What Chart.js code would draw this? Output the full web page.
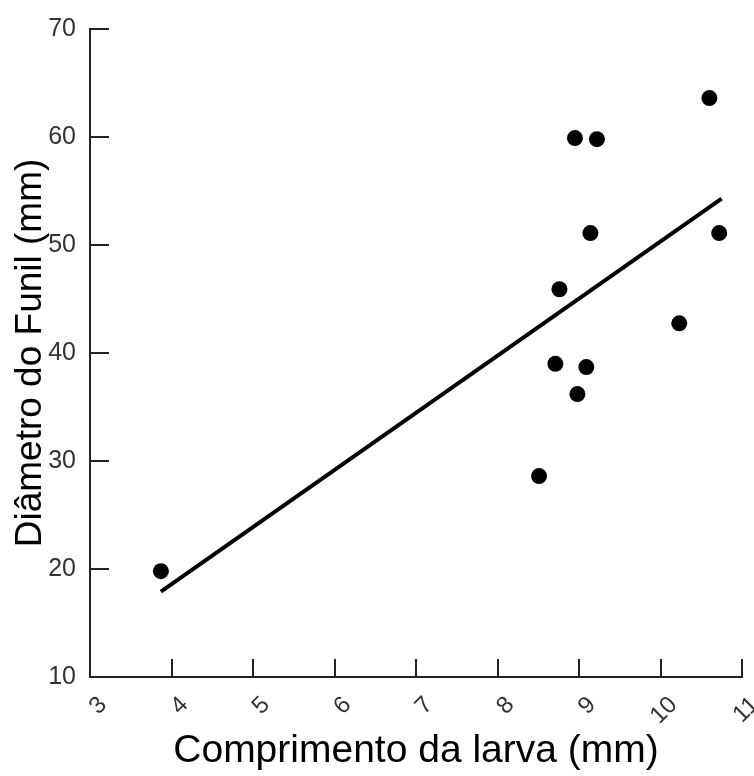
<!DOCTYPE html>
<html>
<head>
<meta charset="utf-8">
<script src="https://cdn.jsdelivr.net/npm/chart.js@4"></script>
<style>
  html, body { margin: 0; padding: 0; background: #fff; }
  #wrap { width: 754px; height: 776px; }
</style>
</head>
<body>
<div id="wrap"><canvas id="scatter_chart" width="754" height="776"></canvas></div>
<script>
// values
const larva = [3.87, 8.51, 8.71, 8.76, 8.95, 8.98, 9.09, 9.14, 9.22, 10.23, 10.6, 10.72];
const funil = [19.8, 28.6, 39.0, 45.9, 59.9, 36.2, 38.7, 51.1, 59.8, 42.75, 63.6, 51.1];
// regression line ends
const fitX = [3.87, 10.75];
const fitY = [17.9, 54.3];
const xTicks = [3, 4, 5, 6, 7, 8, 9, 10, 11];
const yTicks = [10, 20, 30, 40, 50, 60, 70];

const toPoints = (xs, ys) => xs.map((x, i) => ({ x: x, y: ys[i] }));

// short tick marks drawn inside the plot, like the original
const innerTicks = {
	id: 'innerTicks',
	afterDraw(chart) {
		const c = chart.ctx;
		const area = chart.chartArea;
		const xs = chart.scales.x, ys = chart.scales.y;
		c.save();
		c.strokeStyle = '#222';
		c.lineWidth = 2;
		c.beginPath();
		xTicks.forEach(v => {
			const px = Math.round(xs.getPixelForValue(v));
			c.moveTo(px, area.bottom);
			c.lineTo(px, area.bottom - 18);
		});
		yTicks.forEach(v => {
			const py = Math.round(ys.getPixelForValue(v));
			c.moveTo(area.left, py);
			c.lineTo(area.left + 19, py);
		});
		c.stroke();
		c.restore();
	}
};

const ctx = document.getElementById("scatter_chart").getContext("2d");
let my_chart = new Chart(ctx, {
	type: "scatter",
	data: {
		datasets: [
		{
			label: "Dados",
			data: toPoints(larva, funil),
			pointRadius: 8,
			pointHoverRadius: 8,
			backgroundColor: "#000",
			borderColor: "#000",
			borderWidth: 0,
		},
		{
			label: "Regressão",
			type: "line",
			data: toPoints(fitX, fitY),
			borderColor: "#000",
			borderWidth: 4,
			pointRadius: 0,
			fill: false,
		},
		],
	},
	options: {
		responsive: false,
		animation: false,
		layout: { padding: { top: 29, right: 12, left: 0, bottom: 0 } },
		plugins: { legend: { display: false }, tooltip: { enabled: false } },
		scales: {
			x: {
				type: "linear",
				min: 3,
				max: 11,
				afterFit: (s) => { s.height = 99; s.paddingLeft = 0; s.paddingRight = 0; },
				afterBuildTicks: (s) => { s.ticks = xTicks.map(v => ({ value: v })); },
				grid: { display: false },
				border: { display: true, color: "#222", width: 2 },
				ticks: {
					minRotation: 45,
					maxRotation: 45,
					labelOffset: 13,
					padding: 6,
					color: "#333",
					font: { family: "Liberation Sans, Arial", size: 24 },
				},
				title: {
					display: true,
					text: "Comprimento da larva (mm)",
					color: "#000",
					font: { family: "Liberation Sans, Arial", size: 39 },
					padding: { top: 3, bottom: 1 },
				},
			},
			y: {
				type: "linear",
				min: 10,
				max: 70,
				afterFit: (s) => { s.width = 90; },
				afterBuildTicks: (s) => { s.ticks = yTicks.map(v => ({ value: v })); },
				grid: { display: false },
				border: { display: true, color: "#222", width: 2 },
				ticks: {
					padding: 6,
					color: "#333",
					font: { family: "Liberation Sans, Arial", size: 25 },
				},
				title: {
					display: true,
					text: "Diâmetro do Funil (mm)",
					color: "#000",
					font: { family: "Liberation Sans, Arial", size: 37 },
					padding: { top: 9, bottom: 0 },
				},
			},
		},
	},
	plugins: [innerTicks],
});
</script>
</body>
</html>
